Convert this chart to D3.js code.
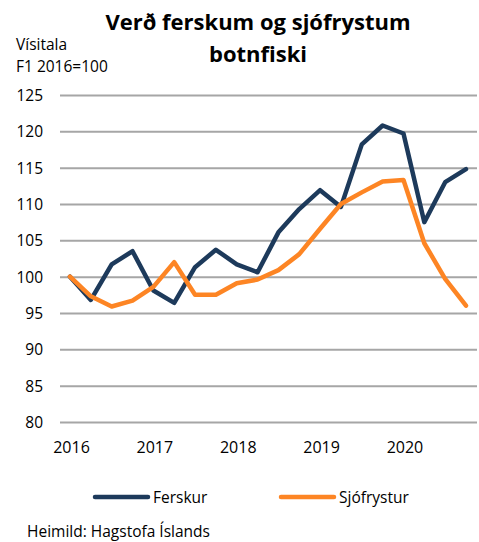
<!DOCTYPE html>
<html>
<head>
<meta charset="utf-8">
<script src="https://cdn.jsdelivr.net/npm/d3@7"></script>
<style>
  body{margin:0;background:#fff;}
  text{font-family:"Open Sans",sans-serif;fill:#000;}
</style>
</head>
<body>
<svg id="chart" width="479" height="542"></svg>
<script>
// quarterly index, Q1 2016 = 100
var quarters = d3.range(20);
var yearLabels = ["2016","2017","2018","2019","2020"];
var yTicks = [80,85,90,95,100,105,110,115,120,125];
var ferskur = [100,96.8,101.7,103.5,98.1,96.4,101.3,103.7,101.7,100.6,106.1,109.3,111.9,109.6,118.2,120.8,119.7,107.5,113.0,114.8];
var sjofrystur = [100,97.3,95.9,96.7,98.6,102.0,97.5,97.5,99.1,99.6,100.9,103.1,106.6,110.0,111.6,113.1,113.3,104.6,99.7,96.0];

var series = [
  {name:"Ferskur", values:ferskur, color:"#1d3a5b"},
  {name:"Sjófrystur", values:sjofrystur, color:"#fd8524"}
];

var svg = d3.select("#chart");
var gridLeft = 60, gridRight = 477;

var x = d3.scaleLinear().domain([0,19]).range([70,466]);
var y = d3.scaleLinear().domain([80,125]).range([422,95]);

// title
svg.append("text").attr("x",258).attr("y",30).attr("text-anchor","middle")
  .style("font-size","22px").style("font-weight","bold").text("Verð ferskum og sjófrystum");
svg.append("text").attr("x",258).attr("y",62).attr("text-anchor","middle")
  .style("font-size","22px").style("font-weight","bold").text("botnfiski");

svg.append("text").attr("x",16).attr("y",50).style("font-size","15.5px").text("Vísitala");
svg.append("text").attr("x",16).attr("y",72).style("font-size","15.5px").text("F1 2016=100");

// gridlines + y labels
var yAxis = d3.axisLeft(y).tickValues(yTicks).tickSize(gridLeft-gridRight).tickPadding(17);
var gy = svg.append("g").attr("transform","translate("+gridLeft+",0)").call(yAxis);
gy.select(".domain").remove();
gy.selectAll(".tick line").attr("stroke","#a6a6a6").attr("stroke-width",2).attr("x1",0).attr("x2",gridRight-gridLeft);
gy.selectAll(".tick text").style("font-size","15.5px").style("font-family","Open Sans, sans-serif").attr("fill","#000").attr("dy","0.36em");

// x labels at first quarter of each year
var xAxis = d3.axisBottom(x).tickValues([0,4,8,12,16]).tickFormat(function(d,i){return yearLabels[i];}).tickSize(0).tickPadding(0);
var gx = svg.append("g").attr("transform","translate(1,453)").call(xAxis);
gx.select(".domain").remove();
gx.selectAll(".tick text").style("font-size","16px").style("font-family","Open Sans, sans-serif").attr("fill","#000").attr("dy","0");

// lines
var line = d3.line().x(function(d,i){return x(quarters[i]);}).y(function(d){return y(d);});
svg.selectAll(".series").data(series).enter().append("path")
  .attr("class","series")
  .attr("d",function(d){return line(d.values);})
  .attr("fill","none")
  .attr("stroke",function(d){return d.color;})
  .attr("stroke-width",4.5)
  .attr("stroke-linejoin","round")
  .attr("stroke-linecap","round");

// legend
var legendX = [95,281];
var lg = svg.selectAll(".legend").data(series).enter().append("g")
  .attr("class","legend")
  .attr("transform",function(d,i){return "translate("+legendX[i]+",497)";});
lg.append("line").attr("x1",0).attr("x2",53).attr("y1",0).attr("y2",0)
  .attr("stroke",function(d){return d.color;}).attr("stroke-width",4.5).attr("stroke-linecap","round");
lg.append("text").attr("x",58).attr("y",6).style("font-size","15.5px").text(function(d){return d.name;});

svg.append("text").attr("x",27).attr("y",537).style("font-size","15.5px").text("Heimild: Hagstofa Íslands");
</script>
</body>
</html>
